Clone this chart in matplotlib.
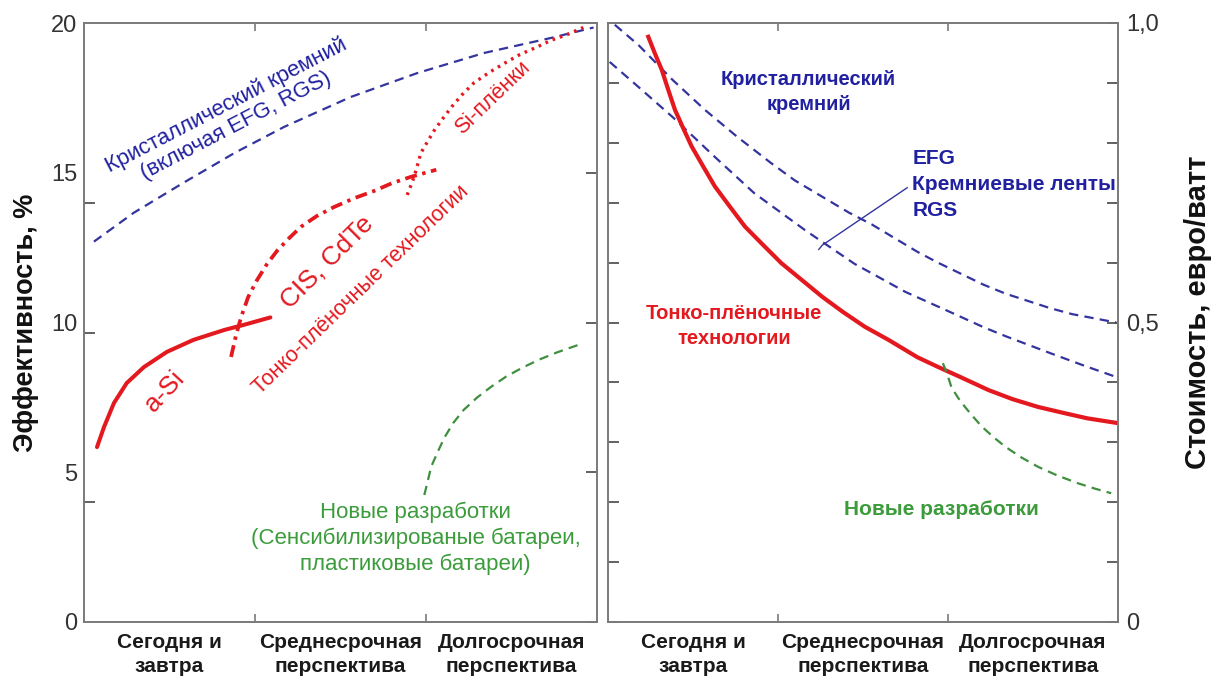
import matplotlib
matplotlib.use("Agg")
import matplotlib.pyplot as plt
import numpy as np

plt.rcParams['font.family'] = ['Liberation Sans', 'DejaVu Sans']

# ---------------- data ----------------
categories = ["Сегодня и\nзавтра", "Среднесрочная\nперспектива", "Долгосрочная\nперспектива"]

# Left panel: efficiency, %
eff_cryst_x = [0.058, 0.29, 0.58, 0.88, 1.17, 1.56, 1.95, 2.34, 2.73, 2.98]
eff_cryst_y = [12.7, 13.66, 14.66, 15.66, 16.53, 17.53, 18.33, 19.0, 19.5, 19.85]

eff_asi_x = [0.076, 0.117, 0.175, 0.25, 0.35, 0.485, 0.64, 0.82, 0.94, 1.09]
eff_asi_y = [5.84, 6.51, 7.31, 7.98, 8.51, 9.02, 9.42, 9.75, 9.93, 10.17]

eff_cis_x = [0.86, 0.89, 0.92, 0.96, 1.01, 1.07, 1.13, 1.20, 1.27, 1.36, 1.46, 1.58, 1.70, 1.80, 1.91, 2.06]
eff_cis_y = [8.85, 9.6, 10.2, 10.85, 11.4, 11.95, 12.4, 12.82, 13.2, 13.55, 13.85, 14.15, 14.4, 14.65, 14.86, 15.1]

eff_sifilm_x = [1.89, 1.91, 1.93, 1.95, 1.97, 2.01, 2.05, 2.10, 2.15, 2.21, 2.28, 2.37, 2.46, 2.55, 2.65, 2.73, 2.82, 2.92]
eff_sifilm_y = [14.26, 14.55, 14.86, 15.25, 15.66, 16.05, 16.43, 16.82, 17.2, 17.6, 18.0, 18.35, 18.66, 18.95, 19.2, 19.42, 19.6, 19.85]

eff_new_x = [1.99, 2.01, 2.03, 2.07, 2.11, 2.16, 2.22, 2.30, 2.38, 2.47, 2.57, 2.67, 2.77, 2.92]
eff_new_y = [4.24, 4.7, 5.18, 5.7, 6.18, 6.65, 7.08, 7.5, 7.85, 8.2, 8.51, 8.78, 9.01, 9.31]

# Right panel: cost, euro/watt
cost_cryst_x = [0.04, 0.18, 0.38, 0.57, 0.76, 0.96, 1.10, 1.26, 1.42, 1.55, 1.82, 1.94, 2.21, 2.34, 2.60, 2.73, 2.99]
cost_cryst_y = [0.997, 0.963, 0.905, 0.855, 0.81, 0.766, 0.737, 0.71, 0.683, 0.664, 0.618, 0.60, 0.563, 0.548, 0.524, 0.514, 0.50]

cost_ribbon_x = [0.01, 0.18, 0.38, 0.63, 0.86, 1.16, 1.45, 1.75, 2.04, 2.21, 2.34, 2.60, 2.80, 2.99]
cost_ribbon_y = [0.935, 0.893, 0.843, 0.776, 0.716, 0.654, 0.598, 0.551, 0.514, 0.492, 0.477, 0.449, 0.428, 0.409]

cost_thin_x = [0.237, 0.276, 0.316, 0.355, 0.394, 0.443, 0.492, 0.561, 0.629, 0.718, 0.806, 0.914,
               1.02, 1.14, 1.26, 1.38, 1.51, 1.65, 1.82, 1.94, 2.08, 2.24, 2.38, 2.53, 2.68, 2.82, 3.0]
cost_thin_y = [0.977, 0.949, 0.922, 0.888, 0.855, 0.824, 0.794, 0.760, 0.727, 0.693, 0.660, 0.629,
               0.599, 0.571, 0.543, 0.518, 0.493, 0.471, 0.442, 0.426, 0.408, 0.387, 0.372, 0.359, 0.349, 0.34, 0.332]

cost_new_x = [1.97, 2.00, 2.02, 2.06, 2.10, 2.15, 2.20, 2.27, 2.34, 2.43, 2.53, 2.64, 2.76, 2.86, 2.96]
cost_new_y = [0.432, 0.41, 0.392, 0.374, 0.359, 0.342, 0.326, 0.308, 0.292, 0.275, 0.259, 0.245, 0.232, 0.223, 0.215]

eff_ticks = [0, 5, 10, 15, 20]
eff_ticklabels = ["0", "5", "10", "15", "20"]
cost_ticklabels = {0.0: "0", 0.5: "0,5", 1.0: "1,0"}

# ---------------- style ----------------
RED = "#e3191f"
BLUE_LINE = "#34349e"
BLUE_TXT = "#2020a0"
GREEN_LINE = "#3f8f3f"
GREEN_TXT = "#3c9c3c"
SPINE = "#7a7a7a"
DASH = (4.2, 2.8)

W, H = 1214, 679
fig = plt.figure(figsize=(W / 100, H / 100), dpi=100)

def fx(px):
    return px / W

def fy(py):
    return 1 - py / H

ax1 = fig.add_axes([fx(84), fy(622), (597 - 84) / W, (622 - 23) / H])
ax2 = fig.add_axes([fx(608), fy(622), (1118 - 608) / W, (622 - 23) / H])

for ax in (ax1, ax2):
    ax.set_xlim(0, 3)
    for s in ax.spines.values():
        s.set_color(SPINE)
        s.set_linewidth(1.4)
    ax.set_xticks([1, 2])
    ax.set_xticklabels([])
    ax.set_xticks([0.5, 1.5, 2.5], minor=True)
    ax.set_xticklabels(categories, minor=True, fontsize=15, fontweight='bold',
                       color="#1a1a1a", linespacing=1.3)
    ax.tick_params(axis='x', which='major', direction='in', top=True, bottom=True,
                   length=6, width=1.2, color=SPINE)
    ax.tick_params(axis='x', which='minor', length=0, pad=8)

# ---- left panel ----
ax1.set_ylim(0, 20)
ax1.set_yticks(eff_ticks)
ax1.set_yticklabels(eff_ticklabels)
ax1.set_yticks([4, 9.65, 14], minor=True)
ax1.tick_params(axis='y', which='major', direction='in', left=False, right=True,
                labelleft=True, length=8, width=1.3, color="#555555",
                labelsize=17, labelcolor="#333333", pad=5)
ax1.tick_params(axis='y', which='minor', direction='in', left=True, right=False,
                length=8, width=1.3, color="#555555")

ax1.plot(eff_cryst_x, eff_cryst_y, color=BLUE_LINE, lw=1.6, dashes=DASH)
ax1.plot(eff_asi_x, eff_asi_y, color=RED, lw=2.9, solid_capstyle='round')
ax1.plot(eff_cis_x, eff_cis_y, color=RED, lw=2.7, dashes=(3.2, 1.5, 0.9, 1.5))
ax1.plot(eff_sifilm_x, eff_sifilm_y, color=RED, lw=2.4, dashes=(0.8, 1.5))
ax1.plot(eff_new_x, eff_new_y, color=GREEN_LINE, lw=1.6, dashes=DASH)

ax1.text(0.86, 16.9, "Кристаллический кремний\n(включая EFG, RGS)", color=BLUE_TXT,
         fontsize=15.8, rotation=27.5, ha='center', va='center', rotation_mode='anchor',
         linespacing=1.1)
ax1.text(2.39, 17.5, "Si-плёнки", color=RED, fontsize=15.5, rotation=44,
         ha='center', va='center', rotation_mode='anchor')
ax1.text(1.42, 12.0, "CIS, CdTe", color=RED, fontsize=19, rotation=45,
         ha='center', va='center', rotation_mode='anchor')
ax1.text(1.62, 11.08, "Тонко-плёночные технологии", color=RED, fontsize=15.5, rotation=44,
         ha='center', va='center', rotation_mode='anchor')
ax1.text(0.47, 7.7, "a-Si", color=RED, fontsize=19, rotation=47,
         ha='center', va='center', rotation_mode='anchor')
ax1.text(1.94, 2.8, "Новые разработки\n(Сенсибилизированые батареи,\nпластиковые батареи)",
         color=GREEN_TXT, fontsize=16, ha='center', va='center', linespacing=1.28)

# ---- right panel ----
ax2.set_ylim(0, 1)
cost_tick_pos = np.round(np.arange(0, 1.01, 0.1), 1)
ax2.set_yticks(cost_tick_pos)
ax2.set_yticklabels([cost_ticklabels.get(v, "") for v in cost_tick_pos])
ax2.tick_params(axis='y', direction='in', left=True, right=True, labelleft=False,
                labelright=True, length=8, width=1.3, color="#555555",
                labelsize=17, labelcolor="#333333", pad=6)

ax2.plot(cost_cryst_x, cost_cryst_y, color=BLUE_LINE, lw=1.6, dashes=DASH)
ax2.plot(cost_ribbon_x, cost_ribbon_y, color=BLUE_LINE, lw=1.6, dashes=DASH)
ax2.plot(cost_thin_x, cost_thin_y, color=RED, lw=3.0)
ax2.plot(cost_new_x, cost_new_y, color=GREEN_LINE, lw=1.6, dashes=DASH)

ax2.plot([1.24, 1.26, 1.76], [0.622, 0.629, 0.725], color=BLUE_LINE, lw=1.0)

ax2.text(1.18, 0.885, "Кристаллический\nкремний", color=BLUE_TXT, fontsize=14.5,
         fontweight='bold', ha='center', va='center', linespacing=1.35)
ax2.text(1.79, 0.73, "EFG\nКремниевые ленты\nRGS", color=BLUE_TXT, fontsize=15,
         fontweight='bold', ha='left', va='center', linespacing=1.45)
ax2.text(0.74, 0.494, "Тонко-плёночные\nтехнологии", color=RED, fontsize=14.5,
         fontweight='bold', ha='center', va='center', linespacing=1.45)
ax2.text(1.96, 0.187, "Новые разработки", color=GREEN_TXT, fontsize=15,
         fontweight='bold', ha='center', va='center')

fig.text(fx(26), fy(323), "Эффективность, %", rotation=90, ha='center', va='center',
         fontsize=19.5, fontweight='bold', color="#111111")
fig.text(fx(1198), fy(312), "Стоимость, евро/ватт", rotation=90, ha='center', va='center',
         fontsize=21, fontweight='bold', color="#111111")

fig.savefig("out.png", dpi=100, facecolor='white')
